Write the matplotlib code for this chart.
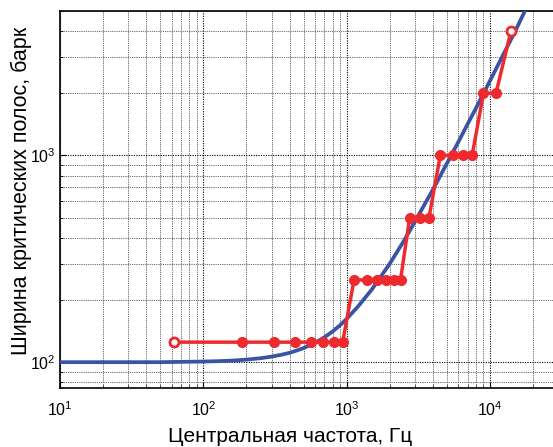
import matplotlib
matplotlib.use('Agg')
import matplotlib.pyplot as plt
import numpy as np

plt.rcParams['font.family'] = ['Liberation Sans', 'DejaVu Sans']
plt.rcParams['mathtext.fontset'] = 'custom'
plt.rcParams['mathtext.rm'] = 'Liberation Sans'
plt.rcParams['mathtext.it'] = 'Liberation Sans:italic'
plt.rcParams['mathtext.bf'] = 'Liberation Sans:bold'
plt.rcParams['mathtext.default'] = 'regular'

# critical band curve
curve_f = [10, 20, 50, 80, 100, 130, 160, 200, 250, 300, 350, 400, 450, 500,
           600, 700, 800, 900, 1000, 1200, 1500, 2000, 2500, 3000, 4000, 5000,
           6000, 7000, 8000, 10000, 12000, 15000, 18000]
curve_bw = [100, 100, 100, 100.5, 100.7, 101.2, 101.8, 102.9, 104.5, 106.4, 108.6,
            111, 114, 117, 124, 132, 141, 151, 162, 186, 225, 300, 385, 480, 685,
            915, 1160, 1425, 1700, 2300, 2950, 4000, 5200]

# subband centres and widths
band_f = [62.5, 187.5, 312.5, 437.5, 562.5, 687.5, 812.5, 937.5,
          1125, 1375, 1625, 1875, 2125, 2375,
          2750, 3250, 3750,
          4500, 5500, 6500, 7500,
          9000, 11000, 14000]
band_bw = [125] * 8 + [250] * 6 + [500] * 3 + [1000] * 4 + [2000] * 2 + [4000]

BLUE = '#3a53a4'
RED = '#ee2a2f'

fig = plt.figure(figsize=(5.53, 4.47), dpi=100)
ax = fig.add_axes([60 / 553, 1 - 388 / 447, 1 - 60 / 553, (388 - 11) / 447])

ax.plot(curve_f, curve_bw, color=BLUE, lw=2.7, zorder=3)
ax.plot(band_f, band_bw, color=RED, lw=2.5, marker='o', ms=7,
        mfc=RED, mec=RED, zorder=4)
# open markers at both ends
ax.plot([band_f[0], band_f[-1]], [band_bw[0], band_bw[-1]], ls='none',
        marker='o', ms=6.5, mfc='white', mec=RED, mew=2, zorder=5)

ax.set_xscale('log')
ax.set_yscale('log')
ax.set_xlim(10, 27500)
ax.set_ylim(75, 5000)

ax.grid(True, which='major', color='black', ls=(0, (1, 1.2)), lw=0.8)
ax.grid(True, which='minor', color='#333333', ls=(0, (1, 1.2)), lw=0.6)
ax.tick_params(which='both', direction='in', top=False, right=False,
               labelsize=11.5)
ax.tick_params(axis='x', pad=9)
ax.tick_params(axis='y', pad=3)
ax.tick_params(which='major', length=4)
ax.tick_params(which='minor', length=2)
ax.spines['right'].set_visible(False)
for s in ['left', 'bottom', 'top']:
    ax.spines[s].set_linewidth(1.2)

fig.text(290 / 553, 1 - 442 / 447, 'Центральная частота, Гц', fontsize=15,
         ha='center', va='baseline')
fig.text(27 / 553, 1 - 191 / 447, 'Ширина критических полос, барк', fontsize=15.5,
         rotation=90, rotation_mode='anchor', ha='center', va='baseline')

fig.savefig('out.png', dpi=100)
